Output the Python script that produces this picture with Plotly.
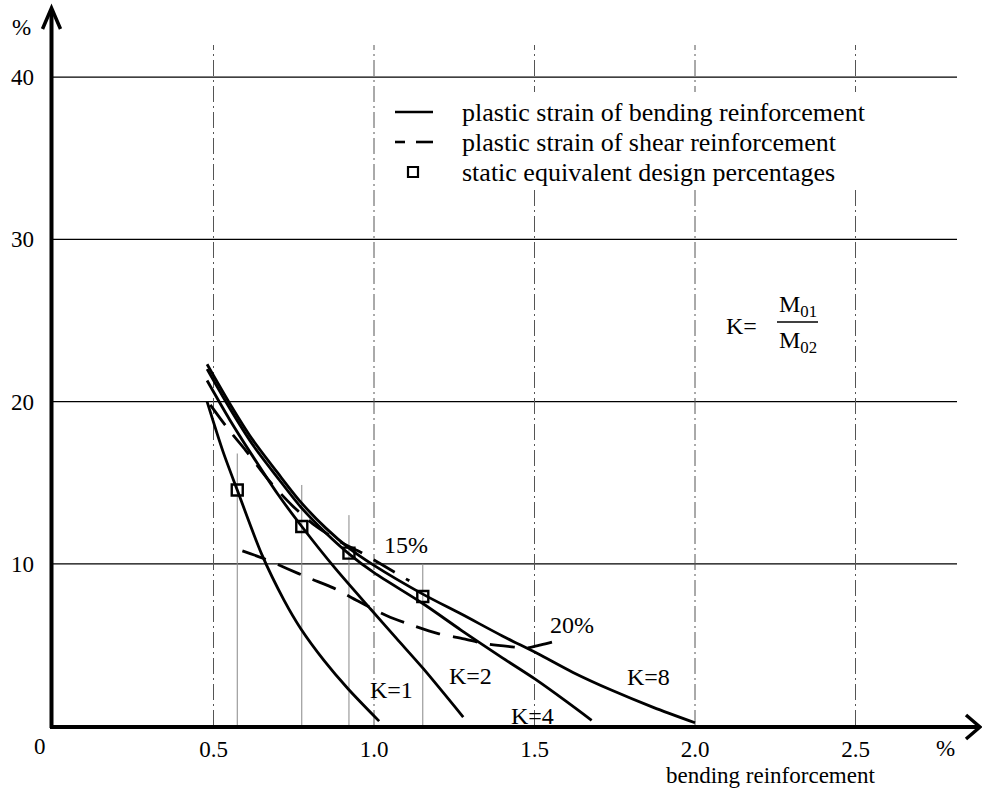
import plotly.graph_objects as go

# ---------------- data ----------------
k1_x = [0.48, 0.53, 0.574, 0.65, 0.72, 0.772, 0.844, 0.919, 1.016]
k1_y = [20.0, 16.9, 14.55, 10.6, 7.75, 6.0, 4.05, 2.3, 0.3]

k2_x = [0.48, 0.55, 0.62, 0.70, 0.775, 0.88, 0.99, 1.07, 1.153, 1.278]
k2_y = [21.3, 18.9, 16.7, 14.3, 12.3, 9.7, 7.2, 5.4, 3.55, 0.55]

k4_x = [0.48, 0.55, 0.62, 0.70, 0.772, 0.85, 0.923, 1.0, 1.152, 1.272, 1.40, 1.501, 1.60, 1.678]
k4_y = [22.0, 19.6, 17.4, 15.3, 13.5, 11.9, 10.6, 9.45, 7.55, 5.9, 4.2, 2.9, 1.5, 0.35]

k8_x = [0.48, 0.55, 0.62, 0.70, 0.772, 0.85, 0.923, 1.0, 1.152, 1.272, 1.40, 1.511, 1.62, 1.741, 1.87, 2.0]
k8_y = [22.3, 19.9, 17.7, 15.6, 13.8, 12.2, 10.95, 9.9, 8.13, 6.9, 5.55, 4.45, 3.3, 2.2, 1.15, 0.2]

shear15_x = [0.49, 0.55, 0.60, 0.67, 0.745, 0.82, 0.90, 0.96, 1.02, 1.11]
shear15_y = [19.8, 18.2, 17.0, 15.2, 13.6, 12.3, 11.3, 10.7, 10.0, 8.95]

shear20_x = [0.59, 0.66, 0.73, 0.80, 0.875, 0.95, 1.04, 1.12, 1.20, 1.28, 1.35, 1.43, 1.475, 1.52, 1.56]
shear20_y = [10.8, 10.3, 9.7, 9.1, 8.5, 7.7, 6.8, 6.2, 5.7, 5.37, 5.06, 4.88, 4.81, 5.0, 5.2]

design_x = [0.574, 0.775, 0.922, 1.152]
design_y = [14.55, 12.3, 10.66, 7.98]
design_guide_top = [16.8, 14.86, 13.0, 10.0]

curve_labels = ["K=1", "K=2", "K=4", "K=8", "15%", "20%"]
curve_label_x = [1.056, 1.30, 1.495, 1.855, 1.10, 1.617]
curve_label_y = [2.2, 3.1, 0.6, 3.0, 11.15, 6.25]

x_ticks = [0.5, 1.0, 1.5, 2.0, 2.5]
x_tick_text = ["0.5", "1.0", "1.5", "2.0", "2.5"]
y_ticks = [10, 20, 30, 40]
y_tick_text = ["10", "20", "30", "40"]

legend_labels = ["plastic strain of bending reinforcement",
                 "plastic strain of shear reinforcement",
                 "static equivalent design percentages"]

# ---------------- geometry helpers ----------------
W, H = 982, 796
X0, SX = 53, 321.0
Y0, SY = 726, 16.22
PW, PH = W - X0, Y0


def X(px):
    return (px - X0) / SX


def Y(py):
    return (Y0 - py) / SY


def PX(px):  # paper x
    return (px - X0) / PW


def PY(py):  # paper y
    return (Y0 - py) / PH


FONT = "Liberation Serif"
BLACK = "black"

fig = go.Figure()

solid = dict(color=BLACK, width=2.8)
dashed = dict(color=BLACK, width=2.8, dash="25px,13px")

for xs, ys in [(k1_x, k1_y), (k2_x, k2_y), (k4_x, k4_y), (k8_x, k8_y)]:
    fig.add_trace(go.Scatter(x=xs, y=ys, mode="lines", line=dict(shape="spline", smoothing=0.8, **solid),
                             showlegend=False, hoverinfo="skip"))
for xs, ys in [(shear15_x, shear15_y), (shear20_x, shear20_y)]:
    fig.add_trace(go.Scatter(x=xs, y=ys, mode="lines", line=dict(shape="spline", smoothing=0.8, **dashed),
                             showlegend=False, hoverinfo="skip"))

fig.add_trace(go.Scatter(x=design_x, y=design_y, mode="markers",
                         marker=dict(symbol="square-open", size=11, color=BLACK, line=dict(width=2.4, color=BLACK)),
                         showlegend=False, hoverinfo="skip"))

shapes = []
for yv in y_ticks:
    shapes.append(dict(type="line", xref="x", yref="y", x0=0, x1=X(957), y0=yv, y1=yv,
                       line=dict(color=BLACK, width=1.2), layer="below"))
for xv in x_ticks:
    shapes.append(dict(type="line", xref="x", yref="y", x0=xv, x1=xv, y0=0, y1=Y(45),
                       line=dict(color="#555", width=1, dash="16px,4px,2px,4px"), layer="below"))
for xv, top in zip(design_x, design_guide_top):
    shapes.append(dict(type="line", xref="x", yref="y", x0=xv, x1=xv, y0=0, y1=top,
                       line=dict(color="#888", width=1), layer="below"))
shapes.append(dict(type="rect", xref="x", yref="y", x0=X(385), x1=X(885), y0=Y(190), y1=Y(92),
                   fillcolor="white", line=dict(width=0), layer="below"))
# axes (paper refs so they are not clipped)
shapes.append(dict(type="line", xref="paper", yref="paper", x0=PX(51.5), x1=PX(51.5), y0=PY(Y0 + 2), y1=PY(10),
                   line=dict(color=BLACK, width=4)))
shapes.append(dict(type="line", xref="paper", yref="paper", x0=PX(50), x1=PX(979), y0=PY(Y0 + 1), y1=PY(Y0 + 1),
                   line=dict(color=BLACK, width=4)))
shapes.append(dict(type="path", xref="paper", yref="paper", xsizemode="pixel", ysizemode="pixel",
                   xanchor=PX(51.5), yanchor=PY(8), path="M -9,-21 L 0,0 L 9,-21",
                   line=dict(color=BLACK, width=3.5)))
shapes.append(dict(type="path", xref="paper", yref="paper", xsizemode="pixel", ysizemode="pixel",
                   xanchor=PX(980), yanchor=PY(Y0 + 1), path="M -14,12 L 0,0 L -14,-12",
                   line=dict(color=BLACK, width=3.5)))
# legend glyphs
shapes.append(dict(type="line", xref="x", yref="y", x0=X(395), x1=X(433), y0=Y(112), y1=Y(112),
                   line=dict(color=BLACK, width=2.6)))
shapes.append(dict(type="line", xref="x", yref="y", x0=X(395), x1=X(405), y0=Y(142), y1=Y(142),
                   line=dict(color=BLACK, width=2.6)))
shapes.append(dict(type="line", xref="x", yref="y", x0=X(416), x1=X(433), y0=Y(142), y1=Y(142),
                   line=dict(color=BLACK, width=2.6)))
shapes.append(dict(type="rect", xref="x", yref="y", x0=X(408), x1=X(418), y0=Y(177), y1=Y(167),
                   line=dict(color=BLACK, width=2.2)))
shapes.append(dict(type="line", xref="x", yref="y", x0=X(777), x1=X(818), y0=Y(322), y1=Y(322),
                   line=dict(color=BLACK, width=1.5)))

ann = []
for t, xv, yv in zip(curve_labels, curve_label_x, curve_label_y):
    ann.append(dict(x=xv, y=yv, text=t, showarrow=False, xanchor="center", yanchor="middle",
                    font=dict(family=FONT, size=24, color=BLACK)))
for i, t in enumerate(legend_labels):
    ann.append(dict(x=X(460), y=Y(112 + 30 * i), text=t, showarrow=False, xanchor="left", yanchor="middle",
                    font=dict(family=FONT, size=26, color=BLACK)))
ann.append(dict(x=X(741), y=Y(326), text="K=", showarrow=False, font=dict(family=FONT, size=24, color=BLACK)))
ann.append(dict(x=X(798), y=Y(306), text="M<sub>01</sub>", showarrow=False,
                font=dict(family=FONT, size=24, color=BLACK)))
ann.append(dict(x=X(798), y=Y(342), text="M<sub>02</sub>", showarrow=False,
                font=dict(family=FONT, size=24, color=BLACK)))
for t, px, py, sz in [("%", 21, 28, 23), ("%", 945, 748, 23), ("0", 40, 746, 23),
                      ("bending reinforcement", 770, 776, 23)]:
    ann.append(dict(xref="paper", yref="paper", x=PX(px), y=PY(py), text=t, showarrow=False,
                    xanchor="center", yanchor="middle", font=dict(family=FONT, size=sz, color=BLACK)))

fig.update_layout(
    width=W, height=H,
    margin=dict(l=X0, r=0, t=0, b=H - Y0, pad=0, autoexpand=False),
    paper_bgcolor="white", plot_bgcolor="white",
    shapes=shapes, annotations=ann,
    xaxis=dict(range=[0, X(W)], showgrid=False, zeroline=False, showline=False, automargin=False,
               tickvals=x_ticks, ticktext=x_tick_text, ticks="", ticklabelstandoff=7,
               tickfont=dict(family=FONT, size=23, color=BLACK), fixedrange=True),
    yaxis=dict(range=[0, Y(0)], showgrid=False, zeroline=False, showline=False, automargin=False,
               tickvals=y_ticks, ticktext=y_tick_text, ticks="", ticklabelstandoff=18,
               tickfont=dict(family=FONT, size=23, color=BLACK), fixedrange=True),
    showlegend=False,
)

fig.write_html("out.html", config={"displayModeBar": False},
               post_script="document.body.style.margin='0px';document.body.style.overflow='hidden';")
